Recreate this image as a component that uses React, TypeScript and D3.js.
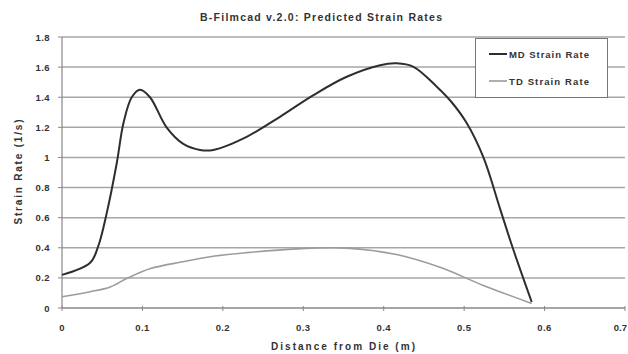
import React from "react";
import * as d3 from "d3";

const mdX = [0, 0.035, 0.045, 0.0556, 0.068, 0.0765, 0.0867, 0.097, 0.1094, 0.13, 0.1508, 0.1716, 0.1882, 0.2296, 0.271, 0.3126, 0.354, 0.3955, 0.416, 0.437, 0.466, 0.484, 0.503, 0.524, 0.5446, 0.561, 0.584];
const mdY = [0.22, 0.3, 0.41, 0.63, 0.96, 1.23, 1.4, 1.45, 1.4, 1.2, 1.09, 1.05, 1.05, 1.137, 1.27, 1.414, 1.536, 1.613, 1.625, 1.602, 1.47, 1.37, 1.23, 1.0, 0.66, 0.39, 0.04];
const tdX = [0, 0.035, 0.06, 0.081, 0.11, 0.148, 0.19, 0.2296, 0.2918, 0.354, 0.416, 0.47, 0.524, 0.584];
const tdY = [0.075, 0.108, 0.14, 0.197, 0.262, 0.305, 0.345, 0.368, 0.393, 0.398, 0.355, 0.27, 0.15, 0.03];
const xTicks = [0, 0.1, 0.2, 0.3, 0.4, 0.5, 0.6, 0.7];
const yTicks = [0, 0.2, 0.4, 0.6, 0.8, 1, 1.2, 1.4, 1.6, 1.8];
const seriesNames = ["MD Strain Rate", "TD Strain Rate"];
const title = "B-Filmcad v.2.0: Predicted Strain Rates";
const xTitle = "Distance from Die (m)";
const yTitle = "Strain Rate (1/s)";

const W = 628, H = 354;
const left = 62, right = 625, top = 37, bottom = 308;
const font = "'Liberation Sans', Arial, sans-serif";

export default function App() {
  const x = d3.scaleLinear().domain([0, 0.7]).range([left, right]);
  const y = d3.scaleLinear().domain([0, 1.8]).range([bottom, top]);
  const line = d3.line<[number, number]>()
    .x(d => x(d[0])).y(d => y(d[1]))
    .curve(d3.curveCatmullRom.alpha(0.5));
  const md = mdX.map((v, i) => [v, mdY[i]] as [number, number]);
  const td = tdX.map((v, i) => [v, tdY[i]] as [number, number]);
  const colors = ["#2e2e2e", "#9c9c9c"];
  const widths = [2, 1.6];
  const txt = "#333";
  return (
    <div style={{ position: "absolute", left: 0, top: 0 }}>
      <svg width={W} height={H} style={{ display: "block", background: "#fff" }} fontFamily={font}>
        <text x={321} y={21} textAnchor="middle" fontSize={10.5} fontWeight="bold" fill={txt}
          textLength={242} lengthAdjust="spacing">{title}</text>
        {yTicks.map(t => (
          <g key={t}>
            {t > 0 && <line x1={left} x2={right} y1={y(t)} y2={y(t)} stroke="#a6a6a6" strokeWidth={1.5} />}
            <line x1={left - 4} x2={left} y1={y(t)} y2={y(t)} stroke="#888" strokeWidth={1} />
            <text x={50} y={y(t) + 3.5} textAnchor="end" fontSize={9.5} fontWeight="bold" fill={txt} letterSpacing={0.4}>{String(t)}</text>
          </g>
        ))}
        <line x1={left} x2={left} y1={top} y2={bottom} stroke="#888" strokeWidth={1.2} />
        <line x1={left} x2={right} y1={bottom} y2={bottom} stroke="#888" strokeWidth={1.4} />
        {xTicks.map((t, i) => {
          const last = i === xTicks.length - 1;
          return (
            <g key={t}>
              <line x1={x(t)} x2={x(t)} y1={bottom - 2} y2={bottom + 3} stroke="#888" strokeWidth={1} />
              <text x={last ? W - 1 : x(t)} y={bottom + 23} textAnchor={last ? "end" : "middle"} fontSize={9.5} fontWeight="bold" fill={txt} letterSpacing={last ? 0 : 0.4}>{String(t)}</text>
            </g>
          );
        })}
        <text x={343} y={350} textAnchor="middle" fontSize={10} fontWeight="bold" fill={txt}
          textLength={144} lengthAdjust="spacing">{xTitle}</text>
        <text transform={`translate(22,172) rotate(-90)`} textAnchor="middle" fontSize={10} fontWeight="bold" fill={txt}
          textLength={105} lengthAdjust="spacing">{yTitle}</text>
        <path d={line(td) ?? ""} fill="none" stroke={colors[1]} strokeWidth={widths[1]} />
        <path d={line(md) ?? ""} fill="none" stroke={colors[0]} strokeWidth={widths[0]} />
        <rect x={475.5} y={38.5} width={132} height={59} fill="#fff" stroke="#777" strokeWidth={1} />
        {seriesNames.map((n, i) => (
          <g key={n}>
            <line x1={489} x2={507} y1={54 + i * 27} y2={54 + i * 27} stroke={colors[i]} strokeWidth={widths[i]} />
            <text x={509} y={57.5 + i * 27} fontSize={9.5} fontWeight="bold" fill={txt}
              textLength={80} lengthAdjust="spacing">{n}</text>
          </g>
        ))}
      </svg>
    </div>
  );
}
